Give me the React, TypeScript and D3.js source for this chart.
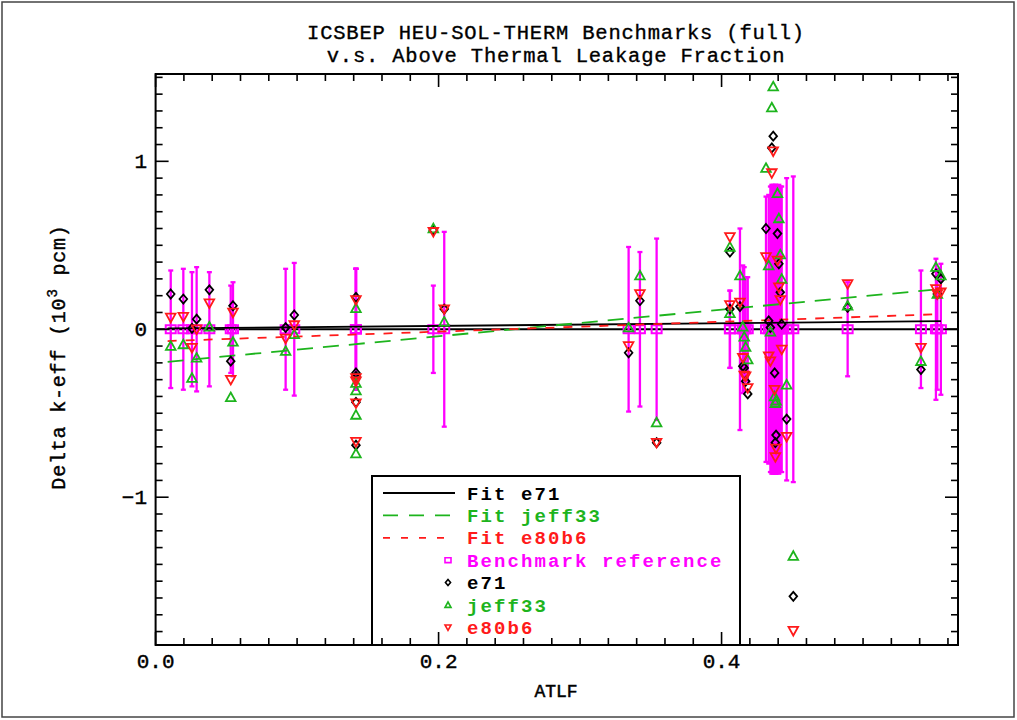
import React from 'react';
import * as d3 from 'd3';

const W = 1017;
const H = 720;

// ---- data ----
const titleLines = ['ICSBEP HEU-SOL-THERM Benchmarks (full)', 'v.s. Above Thermal Leakage Fraction'];
const xLabel = 'ATLF';
const xMajorTicks = [0, 0.2, 0.4];
const xTickLabels = ['0.0', '0.2', '0.4'];
const yMajorTicks = [-1, 0, 1];
const yTickLabels = ['\u22121', '0', '1'];

const benchX = [
  0.0107, 0.0196, 0.0257, 0.029, 0.038, 0.0531, 0.0547, 0.0919, 0.098,
  0.1416, 0.1416, 0.1416, 0.1416, 0.1416,
  0.1963, 0.204, 0.3343, 0.3423, 0.3541,
  0.4059, 0.4059, 0.413, 0.415, 0.416, 0.417, 0.4185,
  0.4314, 0.4333, 0.4355, 0.4365, 0.4345, 0.4375, 0.4385, 0.4395, 0.438, 0.4405, 0.4415, 0.4425,
  0.446, 0.4507, 0.4891, 0.5409, 0.5515, 0.555, 0.5525,
];
const benchErr = [
  0.35, 0.36, 0.34, 0.37, 0.34, 0.26, 0.28, 0.36, 0.395,
  0.36, 0.36, 0.36, 0.36, 0.36,
  0.26, 0.58, 0.49, 0.46, 0.54,
  0.23, 0.23, 0.6, 0.38, 0.37, 0.31, 0.31,
  0.79, 0.8, 0.86, 0.86, 0.85, 0.85, 0.86, 0.85, 0.86, 0.86, 0.85, 0.85,
  0.9, 0.91, 0.28, 0.35, 0.42, 0.39, 0.36,
];
const e71 = [
  0.21, 0.18, 0.005, 0.06, 0.235, -0.19, 0.14, 0.01, 0.085,
  0.19, -0.26, -0.28, -0.435, -0.69,
  0.59, 0.12, -0.14, 0.17, -0.675,
  0.46, 0.12, 0.135, -0.22, -0.23, -0.31, -0.385,
  0.6, 0.05, 1.08, 1.15, 0.01, -0.26, -0.63, 0.57, -0.675, 0.39, 0.22, 0.03,
  -0.535, -1.59, 0.13, -0.24, 0.33, 0.3, 0.21,
];
const jeff33 = [
  -0.1, -0.09, -0.29, -0.17, 0.015, -0.405, -0.075, -0.13, -0.03,
  0.125, -0.32, -0.365, -0.51, -0.74,
  0.6, 0.045, 0.01, 0.32, -0.555,
  0.49, 0.095, 0.32, 0.015, -0.045, -0.105, -0.18,
  0.96, 0.38, 1.32, 1.445, -0.015, -0.4, -0.425, 0.81, -0.44, 0.66, 0.445, 0.3,
  -0.33, -1.35, 0.14, -0.19, 0.37, 0.32, 0.21,
];
const e80b6 = [
  0.07, 0.075, -0.11, 0.0, 0.155, -0.3, 0.1, -0.055, 0.025,
  0.175, -0.29, -0.31, -0.44, -0.67,
  0.58, 0.12, -0.1, 0.21, -0.675,
  0.55, 0.145, 0.16, -0.17, -0.275, -0.28, -0.35,
  0.43, -0.16, 0.93, 1.06, -0.19, -0.36, -0.71, 0.41, -0.76, 0.25, 0.175, -0.12,
  -0.64, -1.795, 0.27, -0.11, 0.24, 0.22, 0.21,
];

// fit lines: endpoints [x0, x1] and values
const fitX = [0.0085, 0.555];
const fitE71 = [0.005, 0.048];
const fitJeff33 = [-0.194, 0.24];
const fitE80b6 = [-0.07, 0.09];

const legendItems = [
  { label: 'Fit e71', kind: 'line', color: '#000000', dash: '' },
  { label: 'Fit jeff33', kind: 'line', color: '#1db41d', dash: '15,11' },
  { label: 'Fit e80b6', kind: 'line', color: '#ff1a1a', dash: '7,11' },
  { label: 'Benchmark reference', kind: 'square', color: '#ff00ff', dash: '' },
  { label: 'e71', kind: 'diamond', color: '#000000', dash: '' },
  { label: 'jeff33', kind: 'tri-up', color: '#1db41d', dash: '' },
  { label: 'e80b6', kind: 'tri-down', color: '#ff1a1a', dash: '' },
];

const GREEN = '#1db41d';
const RED = '#ff1a1a';
const MAGENTA = '#ff00ff';

const plotL = 155.6;
const plotR = 958;
const plotT = 74;
const plotB = 645;

const x = d3.scaleLinear().domain([0, 0.5671]).range([plotL, plotR]);
const y = d3.scaleLinear().domain([-1.88, 1.52]).range([plotB, plotT]);

const xMinor = d3.range(0, 0.567, 0.02);
const yMinor = d3.range(-18, 16).map((v) => v / 10);

function markerPath(kind: string, s: number): string {
  if (kind === 'diamond') return `M0,${-s}L${s * 0.85},0L0,${s}L${-s * 0.85},0Z`;
  if (kind === 'tri-up') return `M0,${-s}L${s},${s * 0.8}L${-s},${s * 0.8}Z`;
  if (kind === 'tri-down') return `M0,${s}L${s},${-s * 0.8}L${-s},${-s * 0.8}Z`;
  return `M${-s},${-s * 0.8}H${s}V${s * 0.8}H${-s}Z`;
}

const FONT = '"Liberation Mono", "DejaVu Sans Mono", monospace';

export default function App() {
  const fitLine = (vals: number[], color: string, dash: string) => (
    <line
      x1={x(fitX[0])}
      y1={y(vals[0])}
      x2={x(fitX[1])}
      y2={y(vals[1])}
      stroke={color}
      strokeWidth={1.8}
      strokeDasharray={dash || undefined}
    />
  );

  const legL = 372;
  const legT = 476;
  const legR = 740;
  const rowY0 = 493;
  const rowDy = 22.4;

  return (
    <svg
      width={W}
      height={H}
      style={{ position: 'absolute', left: 0, top: 0, background: '#fff' }}
      fontFamily={FONT}
    >
      <rect x={0} y={0} width={W} height={H} fill="#fff" />
      <rect x={2} y={2} width={W - 5} height={H - 5} fill="none" stroke="#444" strokeWidth={1.5} />

      {/* title */}
      {titleLines.map((t, i) => (
        <text key={i} x={556} y={39 + i * 23} textAnchor="middle" fontSize={20.5} fill="#000" stroke="#000" strokeWidth={0.35} letterSpacing={0.8}>
          {t}
        </text>
      ))}

      {/* zero reference line */}
      <line x1={plotL} x2={plotR} y1={y(0)} y2={y(0)} stroke="#000" strokeWidth={1.8} />

      {/* error bars */}
      {benchX.map((bx, i) => (
        <g key={'eb' + i} stroke={MAGENTA} strokeWidth={2.3}>
          <line x1={x(bx)} x2={x(bx)} y1={y(benchErr[i])} y2={y(-benchErr[i])} />
          <line x1={x(bx) - 2.5} x2={x(bx) + 2.5} y1={y(benchErr[i])} y2={y(benchErr[i])} />
          <line x1={x(bx) - 2.5} x2={x(bx) + 2.5} y1={y(-benchErr[i])} y2={y(-benchErr[i])} />
        </g>
      ))}
      {/* benchmark squares */}
      {benchX.map((bx, i) => (
        <path key={'sq' + i} d={markerPath('square', 5)} transform={`translate(${x(bx)},${y(0)})`} fill="none" stroke={MAGENTA} strokeWidth={2} />
      ))}

      {/* fit lines */}
      {fitLine(fitE71, '#000', '')}
      {fitLine(fitJeff33, GREEN, '16,10')}
      {fitLine(fitE80b6, RED, '9,9')}

      {/* data markers */}
      {benchX.map((bx, i) => (
        <path key={'e71' + i} d={markerPath('diamond', 4.5)} transform={`translate(${x(bx)},${y(e71[i])})`} fill="none" stroke="#000" strokeWidth={1.8} />
      ))}
      {benchX.map((bx, i) => (
        <path key={'j' + i} d={markerPath('tri-up', 4.8)} transform={`translate(${x(bx)},${y(jeff33[i])})`} fill="none" stroke={GREEN} strokeWidth={1.8} />
      ))}
      {benchX.map((bx, i) => (
        <path key={'r' + i} d={markerPath('tri-down', 4.8)} transform={`translate(${x(bx)},${y(e80b6[i])})`} fill="none" stroke={RED} strokeWidth={1.8} />
      ))}

      {/* legend */}
      <rect x={legL} y={legT} width={legR - legL} height={plotB - legT} fill="#fff" stroke="#000" strokeWidth={2} />
      {legendItems.map((it, i) => {
        const ry = rowY0 + i * rowDy;
        return (
          <g key={'lg' + i}>
            {it.kind === 'line' ? (
              <line x1={383} x2={455} y1={ry} y2={ry} stroke={it.color} strokeWidth={1.8} strokeDasharray={it.dash || undefined} />
            ) : (
              <path
                d={markerPath(it.kind, 3)}
                transform={`translate(${448},${ry})`}
                fill="none"
                stroke={it.color}
                strokeWidth={1.6}
              />
            )}
            <text x={467} y={ry + 6.5} fontSize={19} fontWeight={700} letterSpacing={2.1} fill={it.color}>
              {it.label}
            </text>
          </g>
        );
      })}

      {/* frame */}
      <rect x={plotL} y={plotT} width={plotR - plotL} height={plotB - plotT} fill="none" stroke="#000" strokeWidth={2} />

      {/* x ticks */}
      {xMinor.map((v, i) => {
        const major = xMajorTicks.some((m) => Math.abs(m - v) < 1e-6);
        const len = major ? 13 : 7;
        return (
          <g key={'xt' + i} stroke="#000" strokeWidth={1.6}>
            <line x1={x(v)} x2={x(v)} y1={plotB} y2={plotB - len} />
            <line x1={x(v)} x2={x(v)} y1={plotT} y2={plotT + len} />
          </g>
        );
      })}
      {xMajorTicks.map((v, i) => (
        <text key={'xl' + i} x={x(v)} y={668} textAnchor="middle" fontSize={21} fill="#000" stroke="#000" strokeWidth={0.4}>
          {xTickLabels[i]}
        </text>
      ))}
      <text x={556} y={697} textAnchor="middle" fontSize={18} fill="#000" stroke="#000" strokeWidth={0.5}>
        {xLabel}
      </text>

      {/* y ticks */}
      {yMinor.map((v, i) => {
        const major = yMajorTicks.some((m) => Math.abs(m - v) < 1e-6);
        const len = major ? 13 : 7;
        return (
          <g key={'yt' + i} stroke="#000" strokeWidth={1.6}>
            <line x1={plotL} x2={plotL + len} y1={y(v)} y2={y(v)} />
            <line x1={plotR} x2={plotR - len} y1={y(v)} y2={y(v)} />
          </g>
        );
      })}
      {yMajorTicks.map((v, i) => (
        <text key={'yl' + i} x={147} y={y(v) + 7} textAnchor="end" fontSize={21} fill="#000" stroke="#000" strokeWidth={0.4}>
          {yTickLabels[i]}
        </text>
      ))}
      <text
        transform={`translate(65,357) rotate(-90)`}
        textAnchor="middle"
        fontSize={20}
        letterSpacing={0.8}
        fill="#000"
        stroke="#000"
        strokeWidth={0.4}
      >
        Delta k-eff (10
        <tspan fontSize={14} dy={-8}>3</tspan>
        <tspan dy={8}> pcm)</tspan>
      </text>
    </svg>
  );
}
